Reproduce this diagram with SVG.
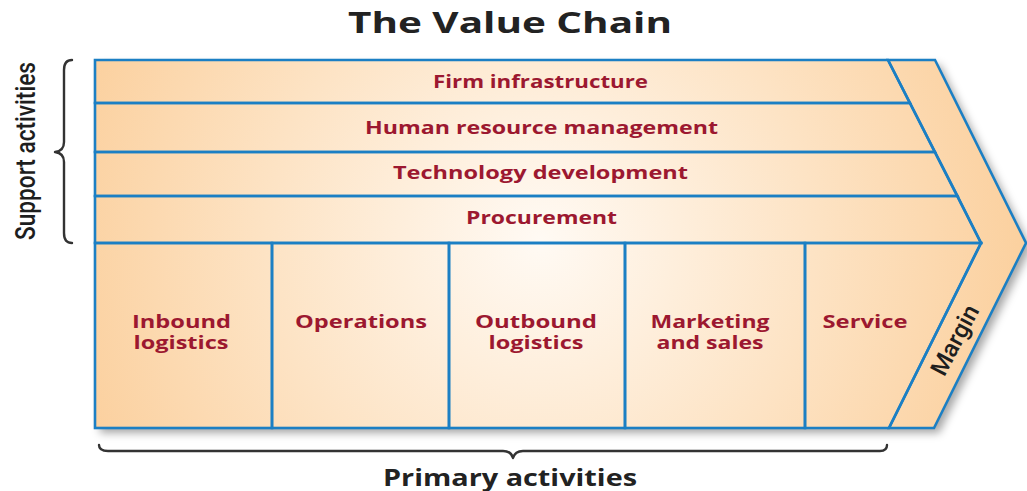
<svg xmlns="http://www.w3.org/2000/svg" width="1027" height="491" viewBox="0 0 1027 491">
<style>
.cell{fill:none;stroke:#1b7fc4;stroke-width:2.6;stroke-linejoin:miter}
.lbl{font-family:"Open Sans","Liberation Sans",sans-serif;font-weight:700;font-size:17px;fill:#9c1830;text-anchor:middle}
.dark{font-family:"Open Sans","Liberation Sans",sans-serif;font-weight:700;fill:#222;text-anchor:middle}
.side{font-family:Roboto,"Liberation Sans",sans-serif;font-weight:500;fill:#1e1e1e;text-anchor:middle}
.brace{fill:none;stroke:#333;stroke-width:2.4;stroke-linecap:round;stroke-linejoin:round}
</style>
<defs>
<radialGradient id="bg" gradientUnits="userSpaceOnUse" cx="540" cy="240" r="500">
<stop offset="0" stop-color="#fffaf4"/>
<stop offset="0.55" stop-color="#fde3c4"/>
<stop offset="1" stop-color="#fbcf9c"/>
</radialGradient>
<filter id="sh" x="-5%" y="-5%" width="115%" height="120%">
<feDropShadow dx="5" dy="5" stdDeviation="4" flood-color="#000" flood-opacity="0.35"/>
</filter>
</defs>
<rect width="1027" height="491" fill="#fff"/>
<g id="title"><text class="dark" x="510" y="33" font-size="28" textLength="324" lengthAdjust="spacingAndGlyphs">The Value Chain</text></g>
<g id="chain-shape"><polygon points="95,60 935,60 1026,243 934,428 95,428" fill="url(#bg)" filter="url(#sh)"/></g>
<g id="firm-infrastructure">
<polygon class="cell" points="95,60 888,60 910,103 95,103"/>
<text class="lbl" x="540.5" y="88" textLength="215" lengthAdjust="spacingAndGlyphs">Firm infrastructure</text>
</g>
<g id="human-resource-management">
<polygon class="cell" points="95,103 910,103 935,152 95,152"/>
<text class="lbl" x="541.5" y="134" textLength="353" lengthAdjust="spacingAndGlyphs">Human resource management</text>
</g>
<g id="technology-development">
<polygon class="cell" points="95,152 935,152 957.5,196 95,196"/>
<text class="lbl" x="540.5" y="179" textLength="295" lengthAdjust="spacingAndGlyphs">Technology development</text>
</g>
<g id="procurement">
<polygon class="cell" points="95,196 957.5,196 981,243 95,243"/>
<text class="lbl" x="541.5" y="224" textLength="151" lengthAdjust="spacingAndGlyphs">Procurement</text>
</g>
<g id="inbound-logistics">
<rect class="cell" x="95" y="243" width="177" height="185"/>
<text class="lbl" x="181.5" y="328" textLength="99" lengthAdjust="spacingAndGlyphs">Inbound</text>
<text class="lbl" x="181" y="349" textLength="95" lengthAdjust="spacingAndGlyphs">logistics</text>
</g>
<g id="operations">
<rect class="cell" x="272" y="243" width="177" height="185"/>
<text class="lbl" x="361" y="328" textLength="132" lengthAdjust="spacingAndGlyphs">Operations</text>
</g>
<g id="outbound-logistics">
<rect class="cell" x="449" y="243" width="176" height="185"/>
<text class="lbl" x="536" y="328" textLength="122" lengthAdjust="spacingAndGlyphs">Outbound</text>
<text class="lbl" x="536" y="349" textLength="95" lengthAdjust="spacingAndGlyphs">logistics</text>
</g>
<g id="marketing-and-sales">
<rect class="cell" x="625" y="243" width="180" height="185"/>
<text class="lbl" x="710" y="328" textLength="119" lengthAdjust="spacingAndGlyphs">Marketing</text>
<text class="lbl" x="710" y="349" textLength="107" lengthAdjust="spacingAndGlyphs">and sales</text>
</g>
<g id="service">
<polygon class="cell" points="805,243 981,243 889,428 805,428"/>
<text class="lbl" x="865" y="328" textLength="85" lengthAdjust="spacingAndGlyphs">Service</text>
</g>
<g id="margin">
<polygon class="cell" points="888,60 935,60 1026,243 934,428 889,428 981,243"/>
<text class="side" transform="translate(962,344) rotate(-62)" font-size="24" textLength="76" lengthAdjust="spacingAndGlyphs">Margin</text>
</g>
<g id="support-activities">
<path class="brace" d="M72,60 Q64,60 64,70 L64,142 Q64,151 55,152 Q64,153 64,162 L64,233 Q64,243 72,243"/>
<text class="side" transform="translate(35,151) rotate(-90)" font-size="27" textLength="178" lengthAdjust="spacingAndGlyphs">Support activities</text>
</g>
<g id="primary-activities">
<path class="brace" d="M99,445 Q99,451 108,451 L503,451 Q511,451 513,458 Q515,451 523,451 L880,451 Q887,451 887,445"/>
<text class="dark" x="510" y="486" font-size="23" textLength="254" lengthAdjust="spacingAndGlyphs">Primary activities</text>
</g>
<g id="connectors"></g>
</svg>
